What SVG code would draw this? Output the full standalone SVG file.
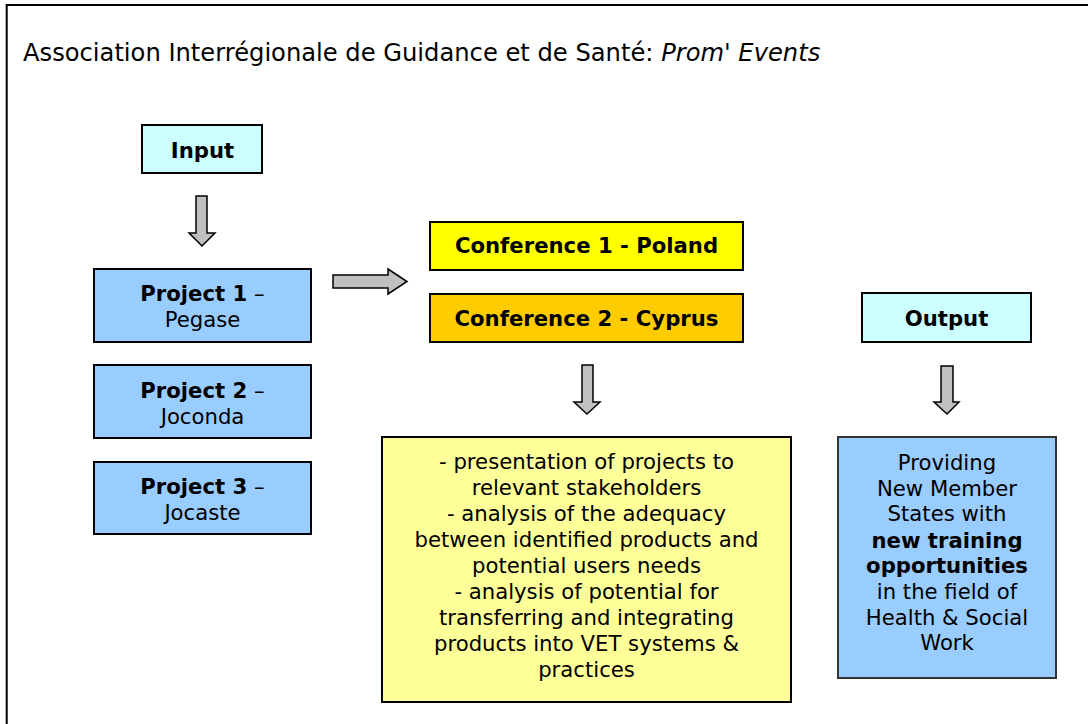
<svg xmlns="http://www.w3.org/2000/svg" width="1088" height="724" viewBox="0 0 1088 724">
  <style>
    text { font-family: "DejaVu Sans", Verdana, sans-serif; font-size: 21.2px; fill: #000; }
    text.title { font-size: 24.2px; }
    .c { text-anchor: middle; }
    .b { font-weight: bold; }
    .box { stroke: #000; stroke-width: 2; }
    .cyan { fill: #CCFFFF; }
    .blue { fill: #99CCFF; }
    .arrow { fill: #C0C0C0; stroke: #000; stroke-width: 1.5; stroke-linejoin: miter; }
  </style>

  <rect width="1088" height="724" fill="#fff"/>
  <!-- page frame (runs off the right and bottom edges) -->
  <rect x="6.7" y="5" width="1200" height="800" fill="none" stroke="#000" stroke-width="2"/>

  <text class="title" x="23" y="61">Association Interrégionale de Guidance et de Santé: <tspan font-style="italic">Prom' Events</tspan></text>

  <g id="input">
    <rect class="box cyan" x="142" y="125" width="120" height="48"/>
    <text class="c b" x="202.5" y="158">Input</text>
  </g>

  <g id="project1">
    <rect class="box blue" x="94" y="269" width="217" height="73"/>
    <text class="c" x="202.5" y="301"><tspan class="b">Project 1</tspan> –</text>
    <text class="c" x="202.5" y="327">Pegase</text>
  </g>

  <g id="project2">
    <rect class="box blue" x="94" y="365" width="217" height="73"/>
    <text class="c" x="202.5" y="398"><tspan class="b">Project 2</tspan> –</text>
    <text class="c" x="202.5" y="424">Joconda</text>
  </g>

  <g id="project3">
    <rect class="box blue" x="94" y="462" width="217" height="72"/>
    <text class="c" x="202.5" y="494"><tspan class="b">Project 3</tspan> –</text>
    <text class="c" x="202.5" y="520">Jocaste</text>
  </g>

  <g id="conference1">
    <rect class="box" fill="#FFFF00" x="430" y="222" width="313" height="48"/>
    <text class="c b" x="586.5" y="253">Conference 1 - Poland</text>
  </g>

  <g id="conference2">
    <rect class="box" fill="#FFCC00" x="430" y="294" width="313" height="48"/>
    <text class="c b" x="586.5" y="326">Conference 2 - Cyprus</text>
  </g>

  <g id="activities">
    <rect class="box" fill="#FFFF99" x="382" y="437" width="409" height="265"/>
    <text class="c" x="586.5" y="469">- presentation of projects to</text>
    <text class="c" x="586.5" y="495">relevant stakeholders</text>
    <text class="c" x="586.5" y="521">- analysis of the adequacy</text>
    <text class="c" x="586.5" y="547">between identified products and</text>
    <text class="c" x="586.5" y="573">potential users needs</text>
    <text class="c" x="586.5" y="599">- analysis of potential for</text>
    <text class="c" x="586.5" y="625">transferring and integrating</text>
    <text class="c" x="586.5" y="651">products into VET systems &amp;</text>
    <text class="c" x="586.5" y="677">practices</text>
  </g>

  <g id="output">
    <rect class="box cyan" x="862" y="293" width="169" height="49"/>
    <text class="c b" x="946.5" y="326">Output</text>
  </g>

  <g id="result">
    <rect fill="#99CCFF" stroke="#333" stroke-width="2" x="838" y="437" width="218" height="241"/>
    <text class="c" x="947" y="470">Providing</text>
    <text class="c" x="947" y="496">New Member</text>
    <text class="c" x="947" y="521">States with</text>
    <text class="c b" x="947" y="548">new training</text>
    <text class="c b" x="947" y="573">opportunities</text>
    <text class="c" x="947" y="599">in the field of</text>
    <text class="c" x="947" y="625">Health &amp; Social</text>
    <text class="c" x="947" y="650">Work</text>
  </g>

  <g id="connectors">
    <!-- Input -> Project 1 -->
    <path class="arrow" d="M196,196 H207 V233 H215 L202,246 L189,233 H196 Z"/>
    <!-- Projects -> Conferences -->
    <path class="arrow" d="M333,275 H388 V269 L407,281.5 L388,294 V288 H333 Z"/>
    <!-- Conferences -> activities -->
    <path class="arrow" d="M582,365 H593 V402 H600 L587,414 L574,402 H582 Z"/>
    <!-- Output -> result -->
    <path class="arrow" d="M941,366 H953 V402 H959 L947,414 L934,402 H941 Z"/>
  </g>
</svg>
